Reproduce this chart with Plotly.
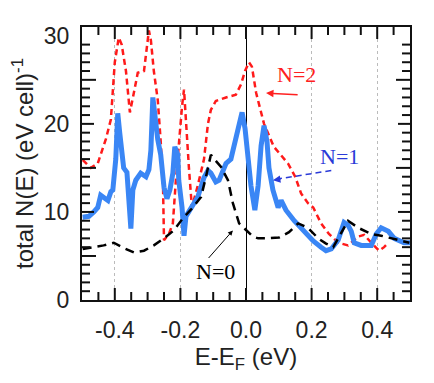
import plotly.graph_objects as go

# ---- data ----
red_E = [-0.498, -0.473, -0.452, -0.427, -0.412, -0.400, -0.388, -0.379, -0.366, -0.354,
         -0.342, -0.330, -0.311, -0.296, -0.290, -0.281, -0.269, -0.260, -0.253, -0.250,
         -0.235, -0.223, -0.214, -0.205, -0.195, -0.189, -0.183, -0.174, -0.165, -0.147,
         -0.128, -0.116, -0.107, -0.092, -0.061, -0.031, -0.015, -0.003, 0.009, 0.018,
         0.031, 0.055, 0.085, 0.128, 0.150, 0.168, 0.189, 0.205, 0.229, 0.253,
         0.281, 0.311, 0.342, 0.360, 0.382, 0.406, 0.421, 0.434]
red_N = [15.9, 15.0, 15.5, 18.3, 20.5, 27.0, 29.8, 29.0, 26.0, 21.3,
         23.5, 25.8, 26.0, 30.6, 29.5, 26.0, 22.7, 18.0, 13.0, 6.8,
         7.5, 8.7, 13.5, 18.0, 22.0, 23.9, 20.0, 15.0, 10.5, 13.0,
         16.0, 20.0, 21.6, 22.6, 23.0, 23.3, 24.5, 26.0, 27.0, 26.5,
         23.5, 20.0, 17.4, 15.5, 14.0, 12.1, 11.0, 10.5, 8.7, 7.5,
         6.5, 6.2, 7.2, 7.4, 6.5, 5.6, 6.0, 6.5]

blue_E = [-0.498, -0.479, -0.464, -0.452, -0.443, -0.431, -0.421, -0.412, -0.406, -0.397,
          -0.391, -0.385, -0.379, -0.373, -0.363, -0.357, -0.351, -0.345, -0.336, -0.321,
          -0.305, -0.296, -0.290, -0.284, -0.278, -0.269, -0.260, -0.250, -0.241, -0.232,
          -0.223, -0.217, -0.208, -0.205, -0.195, -0.189, -0.183, -0.168, -0.147, -0.128,
          -0.116, -0.107, -0.092, -0.082, -0.070, -0.061, -0.046, -0.037, -0.024, -0.012,
          -0.003, 0.006, 0.015, 0.027, 0.037, 0.046, 0.055, 0.064, 0.070, 0.082,
          0.098, 0.107, 0.122, 0.147, 0.174, 0.205, 0.229, 0.244, 0.260, 0.281,
          0.299, 0.311, 0.321, 0.330, 0.351, 0.382, 0.397, 0.412, 0.434, 0.452,
          0.482, 0.504]
blue_N = [9.4, 9.5, 10.0, 10.5, 11.9, 11.5, 11.3, 12.3, 12.5, 16.0,
          21.2, 19.0, 17.0, 15.0, 14.5, 10.5, 8.1, 12.5, 13.6, 14.4,
          14.0, 14.8, 17.0, 23.0, 21.0, 18.2, 16.5, 12.8, 11.5, 12.5,
          14.4, 17.4, 16.5, 13.6, 10.5, 7.3, 9.5, 10.5, 11.7, 13.9,
          14.7, 14.4, 13.4, 13.6, 14.7, 15.5, 16.0, 17.4, 19.5, 21.3,
          19.5, 16.0, 13.0, 10.2, 13.0, 17.5, 19.8, 18.0, 15.0, 12.5,
          10.5, 11.3, 10.2, 9.0, 7.9, 6.7, 6.0, 5.6, 5.8, 6.8,
          8.8, 8.5, 7.8, 6.5, 6.2, 6.2, 7.5, 8.2, 7.8, 7.0,
          6.5, 6.5]

black_E = [-0.498, -0.464, -0.434, -0.403, -0.373, -0.342, -0.311, -0.281, -0.250, -0.220,
           -0.192, -0.162, -0.137, -0.122, -0.107, -0.092, -0.076, -0.055, -0.040, -0.021,
           0.000, 0.021, 0.037, 0.067, 0.101, 0.131, 0.159, 0.189, 0.220, 0.244,
           0.266, 0.281, 0.311, 0.342, 0.360, 0.382, 0.412, 0.443, 0.473, 0.498]
black_N = [5.8, 6.0, 6.2, 6.5, 5.9, 5.4, 5.6, 6.2, 7.0, 7.9,
           9.3, 10.5, 11.7, 14.0, 16.5, 15.8, 15.1, 13.6, 11.0, 8.7,
           7.9, 7.2, 7.0, 7.0, 7.1, 7.7, 8.7, 8.2, 7.0, 6.4,
           6.0, 7.0, 9.0, 8.2, 7.9, 7.5, 7.3, 7.0, 6.7, 6.5]

x_tickvals = [-0.4, -0.2, 0.0, 0.2, 0.4]
x_ticktext = ["-0.4", "-0.2", "0.0", "0.2", "0.4"]
x_minor_ticks = [-0.45, -0.35, -0.3, -0.25, -0.15, -0.1, -0.05,
                 0.05, 0.1, 0.15, 0.25, 0.3, 0.35, 0.45]
y_tickvals = [0, 10, 20, 30]
y_ticktext = ["0", "10", "20", "30"]
y_mid_ticks = [5, 15, 25]
y_minor_ticks = [1, 2, 3, 4, 6, 7, 8, 9, 11, 12, 13, 14, 16, 17, 18, 19,
                 21, 22, 23, 24, 26, 27, 28, 29]

series_labels = ["N=2", "N=1", "N=0"]

X_RANGE = [-0.5, 0.5]
Y_RANGE = [0, 31]

# plot-area size in pixels (used to turn tick lengths in px into axis units)
PLOT_W, PLOT_H = 328, 273
px_x = (X_RANGE[1] - X_RANGE[0]) / PLOT_W
px_y = (Y_RANGE[1] - Y_RANGE[0]) / PLOT_H

TC = "#111"

fig = go.Figure()
fig.add_trace(go.Scatter(x=red_E, y=red_N, mode="lines", name=series_labels[0],
                         line=dict(color="#ff1a1a", width=2.5, dash="6px,4px")))
fig.add_trace(go.Scatter(x=blue_E, y=blue_N, mode="lines", name=series_labels[1],
                         line=dict(color="#3a86f5", width=5)))
fig.add_trace(go.Scatter(x=black_E, y=black_N, mode="lines", name=series_labels[2],
                         line=dict(color="black", width=2.5, dash="9px,6px")))

# inward tick marks on all four sides, drawn as one segmented line trace
tx, ty = [], []
for vals, L in ((x_tickvals, 12), (x_minor_ticks, 8)):
    for v in vals:
        tx += [v, v, None, v, v, None]
        ty += [Y_RANGE[0], Y_RANGE[0] + L * px_y, None,
               Y_RANGE[1], Y_RANGE[1] - L * px_y, None]
for vals, L in ((y_tickvals[1:-1], 12), (y_mid_ticks, 14), (y_minor_ticks, 8)):
    for v in vals:
        tx += [X_RANGE[0], X_RANGE[0] + L * px_x, None,
               X_RANGE[1], X_RANGE[1] - L * px_x, None]
        ty += [v, v, None, v, v, None]
fig.add_trace(go.Scatter(x=tx, y=ty, mode="lines", line=dict(color=TC, width=2),
                         hoverinfo="skip", showlegend=False, connectgaps=False))

tickfont = dict(family="Liberation Sans, Arial", size=23, color="#222")
titlefont = dict(family="Liberation Sans, Arial", size=24, color="#222")
serif = "Liberation Serif, Times New Roman"
CLEAR = "rgba(0,0,0,0)"

fig.update_layout(
    width=426, height=375,
    margin=dict(l=74, r=24, t=19, b=83),
    paper_bgcolor="white", plot_bgcolor="white",
    showlegend=False,
    xaxis=dict(range=X_RANGE, tickmode="array", tickvals=x_tickvals, ticktext=x_ticktext,
               ticks="outside", ticklen=8, tickcolor=CLEAR,
               showline=True, linecolor=TC, linewidth=2, mirror=True,
               showgrid=True, gridcolor="#bbbbbb", griddash="dot", gridwidth=1,
               zeroline=True, zerolinecolor="black", zerolinewidth=1.2,
               tickfont=tickfont,
               title=dict(text="E-E<sub>F</sub> (eV)", font=titlefont, standoff=6)),
    yaxis=dict(range=Y_RANGE, tickmode="array", tickvals=y_tickvals, ticktext=y_ticktext,
               ticks="outside", ticklen=6, tickcolor=CLEAR,
               showline=True, linecolor=TC, linewidth=2, mirror=True,
               showgrid=False, zeroline=False,
               tickfont=tickfont,
               title=dict(text="total N(E) (eV cell)<sup>-1</sup>", font=titlefont, standoff=4)),
)

# labels and arrows
fig.add_annotation(x=0.153, y=25.6, text=series_labels[0], showarrow=False,
                   font=dict(family=serif, size=22, color="#ff2020"))
fig.add_annotation(x=0.061, y=23.5, ax=0.162, ay=23.3, axref="x", ayref="y",
                   text="", showarrow=True, arrowhead=2, arrowsize=1, arrowwidth=1.5,
                   arrowcolor="#ff2020")

fig.add_annotation(x=0.284, y=16.3, text=series_labels[1], showarrow=False,
                   font=dict(family=serif, size=22, color="#2a3ad8"))
fig.add_shape(type="line", x0=0.26, y0=14.7, x1=0.09, y1=13.7,
              line=dict(color="#2a3ad8", width=1.5, dash="6px,4px"))
fig.add_annotation(x=0.082, y=13.6, ax=0.11, ay=13.75, axref="x", ayref="y",
                   text="", showarrow=True, arrowhead=2, arrowsize=1, arrowwidth=1.5,
                   arrowcolor="#2a3ad8")

fig.add_annotation(x=-0.092, y=3.2, text=series_labels[2], showarrow=False,
                   font=dict(family=serif, size=22, color="black"))
fig.add_annotation(x=-0.040, y=7.9, ax=-0.118, ay=4.6, axref="x", ayref="y",
                   text="", showarrow=True, arrowhead=2, arrowsize=1, arrowwidth=1,
                   arrowcolor="black")

fig.write_html("out.html")
